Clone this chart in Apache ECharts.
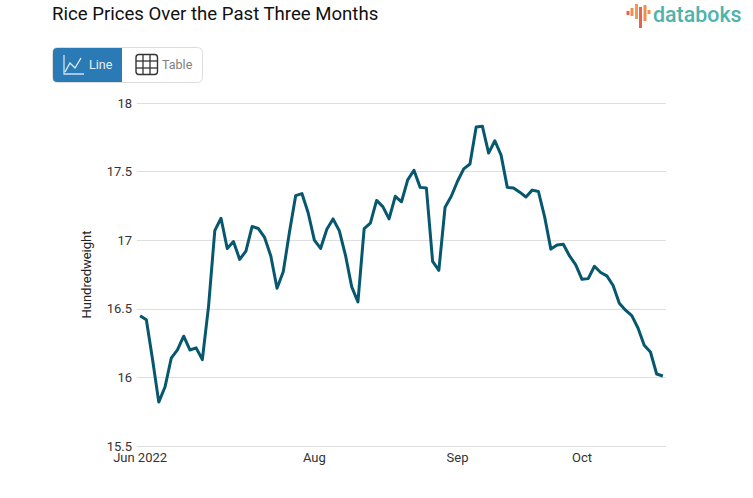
<!DOCTYPE html>
<html><head><meta charset="utf-8">
<style>html,body{margin:0;padding:0;background:#fff}#c{width:753px;height:498px}</style>
<script src="https://cdn.jsdelivr.net/npm/echarts@6/dist/echarts.min.js"></script>
</head><body><div id="c"></div>
<script>
const titleText = 'Rice Prices Over the Past Three Months';
const yAxisName = 'Hundredweight';
const categories = [
 'Jun 2022','','','','','','','','','','','','','','','','','','','','','','','','','','','',
 'Aug','','','','','','','','','','','','','','','','','','','','','','',
 'Sep','','','','','','','','','','','','','','','','','','','',
 'Oct','','','','','','','','','','','','',''
];
const prices = [
 16.45,16.42,16.13,15.82,15.93,16.14,16.2,16.3,16.2,16.215,16.13,16.52,17.07,17.16,16.94,16.99,16.86,16.92,17.1,17.085,
 17.02,16.885,16.65,16.77,17.06,17.325,17.34,17.2,17.0,16.94,17.08,17.155,17.07,16.89,16.66,16.55,17.085,17.125,17.29,17.245,
 17.155,17.32,17.28,17.44,17.51,17.385,17.38,16.845,16.78,17.24,17.32,17.43,17.52,17.555,17.825,17.83,17.635,17.725,17.62,17.385,
 17.38,17.35,17.315,17.365,17.355,17.17,16.935,16.965,16.97,16.885,16.82,16.715,16.72,16.81,16.765,16.74,16.67,16.54,16.49,16.45,
 16.36,16.235,16.185,16.025,16.01
];
const chart = echarts.init(document.getElementById('c'), null, {renderer:'svg'});
const font = 'Roboto';
const logoBars = [[626.5,11,4,'#e9614f'],[630.5,8,8,'#ef8f4a'],[635,4,15,'#ee9a55'],[639,7,21,'#e9614f'],[643.5,5,16,'#ef8f4a'],[647.5,10,4,'#ef8f4a']];
const rect = (x,y,w,h,fill,extra) => ({type:'rect',shape:Object.assign({x,y,width:w,height:h},extra&&extra.shape),style:Object.assign({fill},extra&&extra.style)});
const line = (pts,stroke,w) => ({type:'polyline',shape:{points:pts},style:{stroke,fill:'none',lineWidth:w}});
const graphics = [
 {type:'text',x:52,y:14,style:{text:titleText,font:'400 18.6px Roboto',fill:'#111',textVerticalAlign:'middle'}},
 rect(52.5,47.5,150,35,'#fff',{shape:{r:5},style:{stroke:'#dcdcdc',lineWidth:1}}),
 rect(53,48,69,34,'#2a7ab5',{shape:{r:[4,0,0,4]}}),
 line([[64,55],[64,74],[84,74]],'#cfe0ee',1.3),
 line([[65,72],[70,63],[75,68],[81,58]],'#e6f0f7',1.3),
 {type:'text',x:89,y:64.5,style:{text:'Line',font:'400 12.5px Roboto',fill:'#e8f1f7',textVerticalAlign:'middle'}},
 rect(136,54.5,21.5,20,'none',{shape:{r:3},style:{stroke:'#333',lineWidth:1.4}}),
 line([[143,54.5],[143,74.5]],'#333',1.3),line([[150,54.5],[150,74.5]],'#333',1.3),
 line([[136,61],[157.5,61]],'#333',1.3),line([[136,68],[157.5,68]],'#333',1.3),
 {type:'text',x:162,y:64.5,style:{text:'Table',font:'400 12.5px Roboto',fill:'#808080',textVerticalAlign:'middle'}},
 ...logoBars.map(b=>rect(b[0],b[1],3,b[2],b[3])),
 {type:'text',x:653,y:14.5,style:{text:'databoks',font:'500 21.4px Roboto',fill:'#4fb3ab',textVerticalAlign:'middle'}}
];
chart.setOption({
 animation:false,
 graphic:graphics,
 grid:{left:137,right:87,top:103,bottom:52,containLabel:false},
 xAxis:{type:'category',data:categories,boundaryGap:true,
  axisLine:{show:false},axisTick:{show:false},splitLine:{show:false},
  axisLabel:{interval:(i,v)=>v!=='',margin:4,hideOverlap:false,fontFamily:font,fontSize:13,color:'#333',lineHeight:14}},
 yAxis:{type:'value',min:15.5,max:18,interval:0.5,name:yAxisName,nameLocation:'middle',nameGap:44,
  nameTextStyle:{fontFamily:font,fontSize:13,color:'#222'},
  axisLine:{show:false},axisTick:{show:false},
  splitLine:{lineStyle:{color:'#dedede',width:1}},
  axisLabel:{margin:5,fontFamily:font,fontSize:13,color:'#333',formatter:v=>String(v)}},
 series:[{type:'line',data:prices,showSymbol:false,smooth:false,lineStyle:{color:'#07576f',width:3,join:'round'},itemStyle:{color:'#07576f'}}]
});
</script></body></html>
